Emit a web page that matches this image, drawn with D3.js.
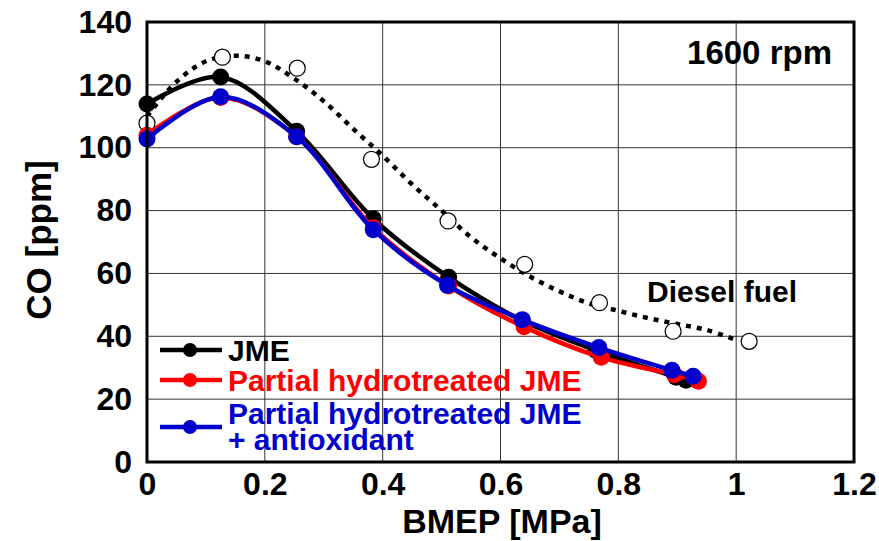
<!DOCTYPE html>
<html>
<head>
<meta charset="utf-8">
<script src="https://cdn.jsdelivr.net/npm/d3@7"></script>
<style>
  body { margin: 0; background: #fff; }
  svg text { font-family: "Liberation Sans", Arial, sans-serif; font-weight: bold; }
</style>
</head>
<body>
<svg id="chart" width="879" height="541"></svg>
<script>
// measured points, BMEP [MPa] vs CO [ppm]
const jmeX = [0, 0.125, 0.254, 0.384, 0.512, 0.637, 0.762, 0.898, 0.915];
const jmeCO = [113.9, 122.5, 105.2, 77.4, 58.8, 45.0, 35.5, 27.0, 26.0];

const phX = [0, 0.125, 0.254, 0.384, 0.512, 0.64, 0.771, 0.895, 0.936];
const phCO = [104.0, 116.0, 103.5, 74.5, 56.0, 43.0, 33.3, 27.8, 25.7];

const phaX = [0, 0.125, 0.254, 0.384, 0.51, 0.637, 0.767, 0.891, 0.927];
const phaCO = [102.8, 116.2, 103.5, 73.9, 56.2, 45.3, 36.4, 29.2, 27.3];

const dieselX = [0, 0.128, 0.255, 0.381, 0.511, 0.641, 0.768, 0.893, 1.022];
const dieselCO = [107.8, 128.8, 125.3, 96.3, 76.7, 62.9, 50.7, 41.6, 38.4];

// dotted trend line for diesel fuel
const dieselFitX = [0, 0.05, 0.1, 0.15, 0.2, 0.25, 0.3, 0.35, 0.4, 0.45, 0.5, 0.55, 0.6, 0.65, 0.7, 0.75, 0.8, 0.85, 0.9, 0.95, 1.0];
const dieselFitCO = [110, 121, 127.5, 129.3, 127.5, 122, 114.8, 106, 97.5, 88.3, 80, 71.5, 64.8, 59, 54.3, 50.5, 48.1, 45.8, 43.9, 42, 38.8];

const xTicks = [0, 0.2, 0.4, 0.6, 0.8, 1, 1.2];
const yTicks = [0, 20, 40, 60, 80, 100, 120, 140];

const legendItems = [
    {lines: ['JME'], colour: '#000000'},
    {lines: ['Partial hydrotreated JME'], colour: '#ff0000'},
    {lines: ['Partial hydrotreated JME', '+ antioxidant'], colour: '#0000cc'}
];

const svg = d3.select('#chart');
const plot = {left: 147, right: 854, top: 22, bottom: 462};

const xScale = d3.scaleLinear()
                    .domain([0, 1.2])
                    .range([plot.left, plot.right]);
const yScale = d3.scaleLinear()
                    .domain([0, 140])
                    .range([plot.bottom, plot.top]);

function zipPoints(xs, ys) {
    return xs.map((x, i) => ({x: x, y: ys[i]}));
}

function drawGrid() {
    let grid = svg.append('g').attr('class', 'grid');

    grid.selectAll('.grid__h')
        .data(yTicks.slice(1, -1))
        .enter()
        .append('line')
            .attr('x1', plot.left)
            .attr('x2', plot.right)
            .attr('y1', d => yScale(d))
            .attr('y2', d => yScale(d))
            .style('stroke', '#333')
            .style('stroke-width', 1);

    grid.selectAll('.grid__v')
        .data(xTicks.slice(1, -1))
        .enter()
        .append('line')
            .attr('x1', d => xScale(d))
            .attr('x2', d => xScale(d))
            .attr('y1', plot.top)
            .attr('y2', plot.bottom)
            .style('stroke', '#333')
            .style('stroke-width', 1);
}

function drawAxes() {
    let xAxis = d3.axisBottom(xScale)
                    .tickValues(xTicks)
                    .tickSize(0)
                    .tickPadding(9)
                    .tickFormat(d3.format('~g'));
    let yAxis = d3.axisLeft(yScale)
                    .tickValues(yTicks)
                    .tickSize(0)
                    .tickPadding(15);

    let gx = svg.append('g')
                .attr('transform', `translate(0,${plot.bottom})`)
                .call(xAxis);
    let gy = svg.append('g')
                .attr('transform', `translate(${plot.left},0)`)
                .call(yAxis);

    [gx, gy].forEach(g => {
        g.select('.domain').remove();
        g.selectAll('text')
            .style('font-size', '32px')
            .style('font-family', '"Liberation Sans", Arial, sans-serif')
            .style('font-weight', 'bold')
            .attr('fill', '#000');
    });
    gx.selectAll('text').attr('dy', '0.75em');

    svg.append('rect')
        .attr('x', plot.left)
        .attr('y', plot.top)
        .attr('width', plot.right - plot.left)
        .attr('height', plot.bottom - plot.top)
        .style('fill', 'none')
        .style('stroke', '#000')
        .style('stroke-width', 3);

    svg.append('text')
        .text('BMEP [MPa]')
        .attr('x', 502)
        .attr('y', 533)
        .attr('text-anchor', 'middle')
        .style('font-size', '34px');

    svg.append('text')
        .text('CO [ppm]')
        .attr('transform', `translate(51,${(plot.top + plot.bottom) / 2 - 2}) rotate(-90)`)
        .attr('text-anchor', 'middle')
        .style('font-size', '35px');
}

function drawSeries(xs, ys, colour, curve) {
    let points = zipPoints(xs, ys);
    let lineGen = d3.line()
                    .x(d => xScale(d.x))
                    .y(d => yScale(d.y))
                    .curve(curve);

    svg.append('path')
        .datum(points)
        .attr('d', lineGen)
        .style('fill', 'none')
        .style('stroke', colour)
        .style('stroke-width', 4.5);

    svg.selectAll(null)
        .data(points)
        .enter()
        .append('circle')
            .attr('cx', d => xScale(d.x))
            .attr('cy', d => yScale(d.y))
            .attr('r', 8.5)
            .attr('fill', colour);
}

function drawDiesel() {
    let fitGen = d3.line()
                    .x(d => xScale(d.x))
                    .y(d => yScale(d.y))
                    .curve(d3.curveCatmullRom);

    svg.append('path')
        .datum(zipPoints(dieselFitX, dieselFitCO))
        .attr('d', fitGen)
        .style('fill', 'none')
        .style('stroke', '#000')
        .style('stroke-width', 4.5)
        .style('stroke-dasharray', '5,6');

    svg.selectAll('.diesel__dot')
        .data(zipPoints(dieselX, dieselCO))
        .enter()
        .append('circle')
            .attr('cx', d => xScale(d.x))
            .attr('cy', d => yScale(d.y))
            .attr('r', 8)
            .attr('fill', '#fff')
            .style('stroke', '#000')
            .style('stroke-width', 1.2);
}

function drawLegend() {
    const rowY = [350, 380, 427];
    let legend = svg.append('g').attr('class', 'legend');

    legendItems.forEach((item, idx) => {
        let y = rowY[idx];
        legend.append('line')
            .attr('x1', 160)
            .attr('x2', 222)
            .attr('y1', y)
            .attr('y2', y)
            .style('stroke', item.colour)
            .style('stroke-width', 4.5);
        legend.append('circle')
            .attr('cx', 190)
            .attr('cy', y)
            .attr('r', 7)
            .attr('fill', item.colour);

        let firstBase = item.lines.length > 1 ? y - 3 : y + 11;
        item.lines.forEach((txt, k) => {
            legend.append('text')
                .text(txt)
                .attr('x', 228)
                .attr('y', firstBase + k * 26)
                .attr('fill', item.colour)
                .style('font-size', '30px');
        });
    });
}

drawGrid();
drawDiesel();
drawSeries(jmeX, jmeCO, '#000000', d3.curveCatmullRom);
drawSeries(phX, phCO, '#ff0000', d3.curveCatmullRom);
drawSeries(phaX, phaCO, '#0000cc', d3.curveCatmullRom);
drawAxes();
drawLegend();

svg.append('text')
    .text('1600 rpm')
    .attr('x', 832)
    .attr('y', 64)
    .attr('text-anchor', 'end')
    .style('font-size', '33px');

svg.append('text')
    .text('Diesel fuel')
    .attr('x', 647)
    .attr('y', 302)
    .style('font-size', '30px');
</script>
</body>
</html>
